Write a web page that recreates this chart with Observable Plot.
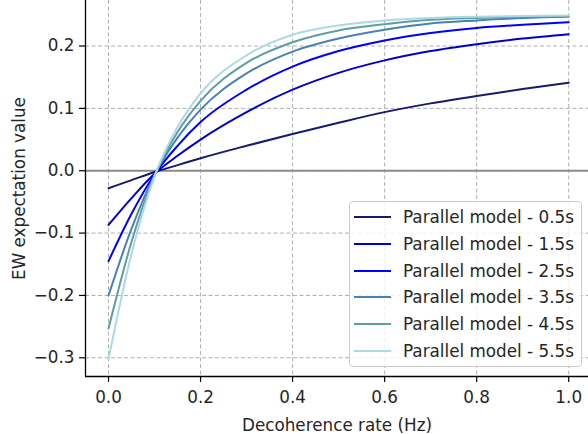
<!DOCTYPE html>
<html>
<head>
<meta charset="utf-8">
<script src="https://cdn.jsdelivr.net/npm/d3@7"></script>
<script src="https://cdn.jsdelivr.net/npm/@observablehq/plot@0.6"></script>
<style>
  body { margin: 0; background: #ffffff; }
  #wrap { position: relative; width: 588px; height: 434px; overflow: hidden; font-family: "DejaVu Sans", sans-serif; color: #262626; }
  #legend { position: absolute; left: 349px; top: 201px; width: 233px; height: 166px; box-sizing: border-box;
            border: 1px solid #cccccc; border-radius: 4px; background: rgba(255,255,255,0.8); }
  .row { position: absolute; left: 0; height: 26px; width: 230px; }
  .swatch { position: absolute; left: 4px; top: 12px; width: 37px; height: 2px; }
  .lab { position: absolute; left: 53px; top: 0; line-height: 26px; font-size: 16.8px; white-space: nowrap; }
</style>
</head>
<body>
<div id="wrap"></div>
<script>
// Decoherence rate (Hz)
const xs = [0, 0.05, 0.1, 0.15, 0.2, 0.3, 0.4, 0.5, 0.6, 0.7, 0.8, 0.9, 1.0];
// EW expectation value per model duration
const labels = ["Parallel model - 0.5s", "Parallel model - 1.5s", "Parallel model - 2.5s",
                "Parallel model - 3.5s", "Parallel model - 4.5s", "Parallel model - 5.5s"];
const s05 = [-0.028, -0.015, -0.002, 0.009, 0.020, 0.040, 0.059, 0.077, 0.094, 0.108, 0.120, 0.131, 0.141];
const s15 = [-0.087, -0.044, -0.005, 0.024, 0.050, 0.094, 0.130, 0.157, 0.177, 0.192, 0.203, 0.212, 0.219];
const s25 = [-0.145, -0.069, -0.006, 0.040, 0.078, 0.130, 0.167, 0.192, 0.209, 0.221, 0.229, 0.234, 0.238];
const s35 = [-0.200, -0.093, -0.007, 0.053, 0.098, 0.156, 0.191, 0.212, 0.226, 0.236, 0.241, 0.245, 0.247];
const s45 = [-0.253, -0.114, -0.008, 0.062, 0.112, 0.173, 0.206, 0.225, 0.235, 0.242, 0.245, 0.247, 0.248];
const s55 = [-0.302, -0.133, -0.009, 0.070, 0.124, 0.185, 0.218, 0.233, 0.241, 0.245, 0.247, 0.248, 0.249];
const colors = ["#191970", "#0000cd", "#0000ff", "#4682b4", "#5f9ea0", "#add8e6"];
const xTicks = [0, 0.2, 0.4, 0.6, 0.8, 1.0];
const yTicks = [-0.3, -0.2, -0.1, 0, 0.1, 0.2];
const xDomain = [-0.05, 1.043];
const yDomain = [-0.33, 0.273];

const series = [s05, s15, s25, s35, s45, s55];
const table = [];
series.forEach((s, i) => s.forEach((v, j) => table.push({x: xs[j], y: v, series: labels[i]})));

const fmt = d => (d < 0 ? "\u2212" : "") + Math.abs(d).toFixed(1);

const chart = Plot.plot({
  width: 588,
  height: 434,
  marginLeft: 85,
  marginRight: 0,
  marginTop: 0,
  marginBottom: 58,
  style: {fontFamily: "DejaVu Sans, sans-serif", fontSize: "16.8px", color: "#262626", background: "#ffffff", overflow: "visible"},
  x: {domain: xDomain},
  y: {domain: yDomain},
  color: {domain: labels, range: colors},
  marks: [
    Plot.gridX(xTicks, {stroke: "#b0b0b0", strokeOpacity: 1, strokeWidth: 1, strokeDasharray: "4,2.5"}),
    Plot.gridY(yTicks, {stroke: "#b0b0b0", strokeOpacity: 1, strokeWidth: 1, strokeDasharray: "4,2.5"}),
    Plot.ruleY([0], {stroke: "#8c8c8c", strokeWidth: 2}),
    Plot.line(table, {x: "x", y: "y", z: "series", stroke: "series", strokeWidth: 2, curve: "monotone-x"}),
    Plot.ruleX([xDomain[0]], {stroke: "#000", strokeWidth: 1.3}),
    Plot.ruleY([yDomain[0]], {stroke: "#000", strokeWidth: 1.3}),
    Plot.axisX(xTicks, {tickFormat: fmt, tickSize: 6, tickPadding: 9, stroke: "#000", strokeWidth: 1.2,
      label: "Decoherence rate (Hz)", labelAnchor: "center", labelArrow: "none", labelOffset: 54}),
    Plot.axisY(yTicks, {tickFormat: fmt, tickSize: 6, tickPadding: 5, stroke: "#000", strokeWidth: 1.2,
      label: "EW expectation value", labelAnchor: "center", labelArrow: "none", labelOffset: 72})
  ]
});

const wrap = document.getElementById("wrap");
wrap.appendChild(chart);

const legend = document.createElement("div");
legend.id = "legend";
labels.forEach((l, i) => {
  const row = document.createElement("div");
  row.className = "row";
  row.style.top = (2 + i * 26.8) + "px";
  const sw = document.createElement("div");
  sw.className = "swatch";
  sw.style.background = colors[i];
  const t = document.createElement("div");
  t.className = "lab";
  t.textContent = l;
  row.appendChild(sw);
  row.appendChild(t);
  legend.appendChild(row);
});
wrap.appendChild(legend);
</script>
</body>
</html>
